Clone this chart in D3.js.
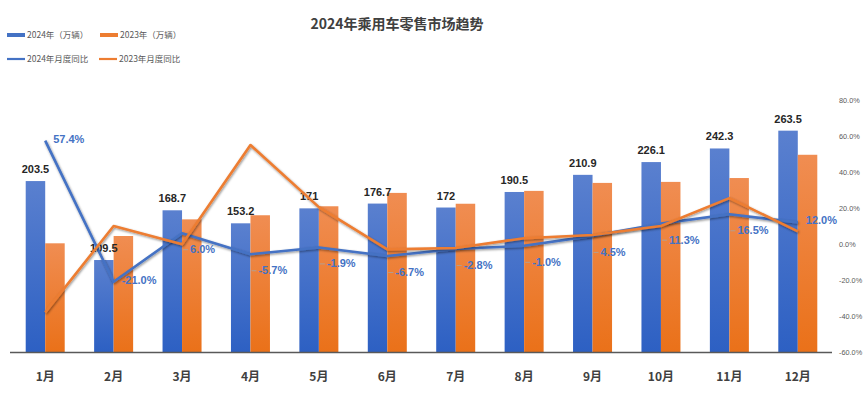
<!DOCTYPE html>
<html>
<head>
<meta charset="utf-8">
<script src="https://cdn.jsdelivr.net/npm/d3@7/dist/d3.min.js"></script>
<style>
  html, body { margin: 0; padding: 0; background: #fff; }
  svg { display: block; font-family: "Liberation Sans", "Noto Sans CJK SC", sans-serif; }
</style>
</head>
<body>
<svg id="chart" width="865" height="396"></svg>
<script>
// --- Data ---
const months = ["1月", "2月", "3月", "4月", "5月", "6月", "7月", "8月", "9月", "10月", "11月", "12月"];
const sales2024 = [203.5, 109.5, 168.7, 153.2, 171, 176.7, 172, 190.5, 210.9, 226.1, 242.3, 263.5];
const sales2023 = [129.4, 138.1, 157.9, 162.8, 173.5, 189.4, 176.5, 191.8, 201.3, 202.5, 207.1, 234.8];
const yoy2024 = [57.4, -21.0, 6.0, -5.7, -1.9, -6.7, -2.8, -1.0, 4.5, 11.3, 16.5, 12.0];
const yoy2023 = [-38.0, 10.0, -0.2, 55.0, 20.5, -3.0, -2.2, 3.2, 5.0, 10.0, 25.5, 7.0];
const pctTicks = [-60, -40, -20, 0, 20, 40, 60, 80];

const legendItems = [
    { label: "2024年（万辆）", color: "#4472c4", kind: "bar" },
    { label: "2023年（万辆）", color: "#ed7d31", kind: "bar" },
    { label: "2024年月度同比", color: "#4472c4", kind: "line" },
    { label: "2023年月度同比", color: "#ed7d31", kind: "line" }
];

// label placement: 1 = drop the percentage label below the point
const pctLabelDrop = [0, 0, 1, 1, 1, 1, 1, 1, 1, 1, 1, 0];

const pct = v => v.toFixed(1) + "%";

const svg = d3.select("#chart");

// --- Layout ---
const plot = { left: 11, right: 832, top: 100, bottom: 352 };

const x = d3.scaleBand().domain(months).range([plot.left, plot.right]).paddingInner(0);
const yBar = d3.scaleLinear().domain([0, 300]).range([plot.bottom, plot.top]);
const yPct = d3.scaleLinear().domain([-60, 80]).range([plot.bottom, plot.top]);
const barW = 19.5;

// --- Gradients & shadow ---
const defs = svg.append("defs");
function addGradient(id, top, bottom) {
    const g = defs.append("linearGradient").attr("id", id)
        .attr("x1", 0).attr("y1", 0).attr("x2", 0).attr("y2", 1);
    g.append("stop").attr("offset", "0%").attr("stop-color", top);
    g.append("stop").attr("offset", "100%").attr("stop-color", bottom);
}
addGradient("gBlue", "#5a80cf", "#2d60c3");
addGradient("gOrange", "#f08d52", "#ea7119");

defs.append("filter").attr("id", "shadow")
    .attr("x", "-5%").attr("y", "-20%").attr("width", "110%").attr("height", "140%")
    .append("feDropShadow")
    .attr("dx", 0.8).attr("dy", 1.2).attr("stdDeviation", 0.9)
    .attr("flood-color", "#000").attr("flood-opacity", 0.45);

// --- Title ---
svg.append("text")
    .attr("x", 397).attr("y", 29)
    .attr("text-anchor", "middle")
    .style("font-family", "'Noto Sans CJK SC', sans-serif")
    .style("font-weight", "bold")
    .style("font-size", "14px")
    .style("fill", "#404040")
    .text("2024年乘用车零售市场趋势");

// --- Legend ---
const legendPos = [[7, 35], [100, 35], [7, 59], [99, 59]];
legendItems.forEach((d, i) => {
    const [lx, ly] = legendPos[i];
    svg.append("line")
        .attr("x1", lx).attr("x2", lx + 18)
        .attr("y1", ly).attr("y2", ly)
        .attr("stroke", d.color)
        .attr("stroke-width", d.kind === "bar" ? 4 : 2.2);
    svg.append("text")
        .attr("x", lx + 20).attr("y", ly + 3)
        .style("font-family", "'Noto Sans CJK SC', sans-serif")
        .style("font-size", "8.5px")
        .style("fill", "#595959")
        .text(d.label);
});

// --- Bars ---
svg.append("g").selectAll("rect.b24")
    .data(sales2024)
    .join("rect")
    .attr("class", "b24")
    .attr("x", (d, i) => x(months[i]) + x.bandwidth() / 2 - barW)
    .attr("y", d => yBar(d))
    .attr("width", barW)
    .attr("height", d => yBar(0) - yBar(d))
    .attr("fill", "url(#gBlue)");

svg.append("g").selectAll("rect.b23")
    .data(sales2023)
    .join("rect")
    .attr("class", "b23")
    .attr("x", (d, i) => x(months[i]) + x.bandwidth() / 2)
    .attr("y", d => yBar(d))
    .attr("width", barW)
    .attr("height", d => yBar(0) - yBar(d))
    .attr("fill", "url(#gOrange)");

// --- Baseline ---
svg.append("line")
    .attr("x1", plot.left - 1).attr("x2", plot.right)
    .attr("y1", plot.bottom + 0.5).attr("y2", plot.bottom + 0.5)
    .attr("stroke", "#595959").attr("stroke-width", 1.6);

// --- Bar value labels ---
svg.append("g").selectAll("text")
    .data(sales2024)
    .join("text")
    .attr("x", (d, i) => x(months[i]) + x.bandwidth() / 2 - barW / 2)
    .attr("y", d => yBar(d) - 8)
    .attr("text-anchor", "middle")
    .style("font-weight", "bold")
    .style("font-size", "11px")
    .style("fill", "#262626")
    .text(d => d);

// --- YoY lines ---
const cx = i => x(months[i]) + x.bandwidth() / 2;
const line = d3.line().x((d, i) => cx(i)).y(d => yPct(d));

svg.append("path")
    .datum(yoy2024)
    .attr("d", line)
    .attr("fill", "none")
    .attr("stroke", "#4472c4")
    .attr("stroke-width", 2.6)
    .attr("stroke-linejoin", "round")
    .attr("filter", "url(#shadow)");

svg.append("path")
    .datum(yoy2023)
    .attr("d", line)
    .attr("fill", "none")
    .attr("stroke", "#ed7d31")
    .attr("stroke-width", 2.6)
    .attr("stroke-linejoin", "round")
    .attr("filter", "url(#shadow)");

// --- YoY labels (2024) ---
const pctG = svg.append("g");
yoy2024.forEach((v, i) => {
    const px = cx(i);
    const py = yPct(v) + (pctLabelDrop[i] ? 20 : 2);
    if (pctLabelDrop[i]) {
        pctG.append("line")
            .attr("x1", px + 1).attr("x2", px + 6)
            .attr("y1", py - 3.5).attr("y2", py - 3.5)
            .attr("stroke", "#a6a6a6").attr("stroke-width", 0.8);
    }
    pctG.append("text")
        .attr("x", px + 8)
        .attr("y", py)
        .style("font-weight", "bold")
        .style("font-size", "11px")
        .style("fill", "#4472c4")
        .text(pct(v));
});

// --- Right axis ---
const axisR = svg.append("g").attr("transform", `translate(${plot.right + 7},0)`)
    .call(d3.axisRight(yPct).tickValues(pctTicks).tickSize(0).tickPadding(0).tickFormat(pct));
axisR.select(".domain").remove();
axisR.selectAll("text")
    .style("font-family", "'Liberation Sans', sans-serif")
    .style("font-size", "7.3px")
    .style("fill", "#595959");

// --- X axis labels ---
svg.append("g").selectAll("text")
    .data(months)
    .join("text")
    .attr("x", d => x(d) + x.bandwidth() / 2)
    .attr("y", 381)
    .attr("text-anchor", "middle")
    .style("font-family", "'Noto Sans CJK SC', sans-serif")
    .style("font-weight", "bold")
    .style("font-size", "12px")
    .style("fill", "#404040")
    .text(d => d);
</script>
</body>
</html>
